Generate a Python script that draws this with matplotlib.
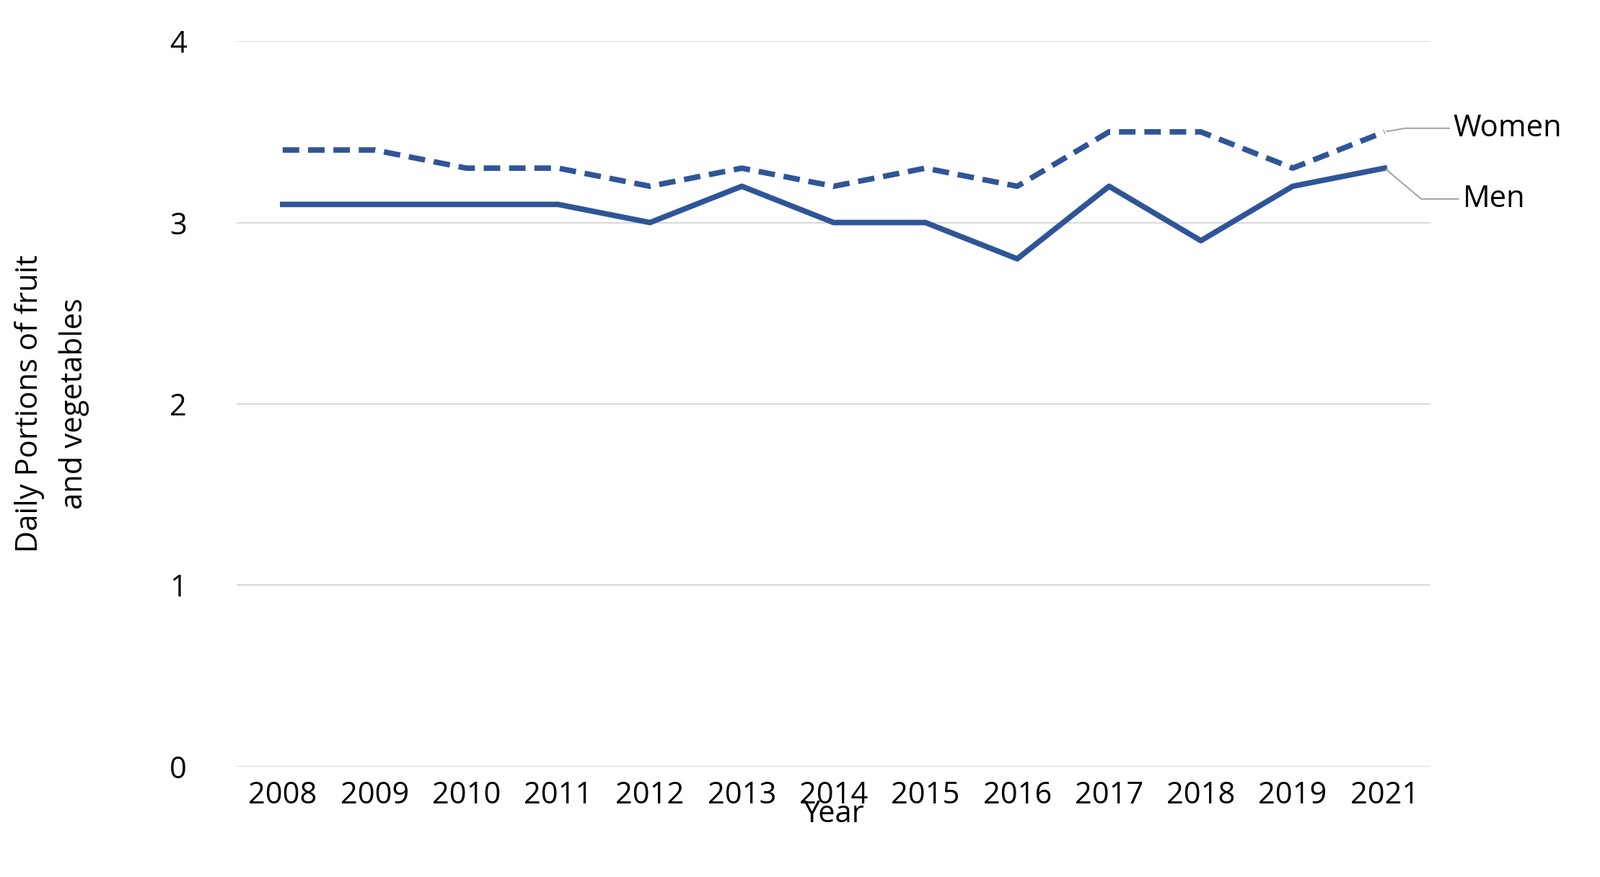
import matplotlib.pyplot as plt

years = ["2008", "2009", "2010", "2011", "2012", "2013", "2014",
         "2015", "2016", "2017", "2018", "2019", "2021"]
women = [3.4, 3.4, 3.3, 3.3, 3.2, 3.3, 3.2, 3.3, 3.2, 3.5, 3.5, 3.3, 3.5]
men = [3.1, 3.1, 3.1, 3.1, 3.0, 3.2, 3.0, 3.0, 2.8, 3.2, 2.9, 3.2, 3.3]

plt.rcParams["font.family"] = "Open Sans"
color = "#2F5597"
fs = 30

fig = plt.figure(figsize=(22.18, 12.16), dpi=100)
ax = fig.add_axes([0.148, 0.126, 0.746, 0.827])
x = list(range(len(years)))

ax.plot(x, women, color=color, linewidth=5.5, linestyle=(0, (3, 1.6)))
ax.plot(x, men, color=color, linewidth=5.5)

ax.set_ylim(0, 4)
ax.set_xlim(-0.5, len(years) - 0.5)
ax.set_yticks([0, 1, 2, 3, 4])
ax.set_xticks(x)
ax.set_xticklabels(years)
ax.tick_params(axis="both", length=0, labelsize=fs, pad=14)
ax.tick_params(axis="y", pad=50)
ax.grid(axis="y", color="#D9D9D9", linewidth=1.5)
ax.set_axisbelow(True)
for s in ax.spines.values():
    s.set_visible(False)

ax.set_xlabel("Year", fontsize=fs, labelpad=-12)
ax.set_ylabel("Daily Portions of fruit\nand vegetables", fontsize=fs,
              labelpad=80, linespacing=1.6)

last = len(years) - 1
ax.annotate("Women", xy=(last, women[-1]), xytext=(last + 0.75, 3.52),
            fontsize=fs, va="center",
            arrowprops=dict(arrowstyle="-", color="#A6A6A6", lw=1.5,
                            connectionstyle="angle,angleA=0,angleB=10,rad=0"))
ax.annotate("Men", xy=(last, men[-1]), xytext=(last + 0.85, 3.13),
            fontsize=fs, va="center",
            arrowprops=dict(arrowstyle="-", color="#A6A6A6", lw=1.5,
                            connectionstyle="angle,angleA=0,angleB=-40,rad=0"))

fig.savefig("out.png", dpi=100)
